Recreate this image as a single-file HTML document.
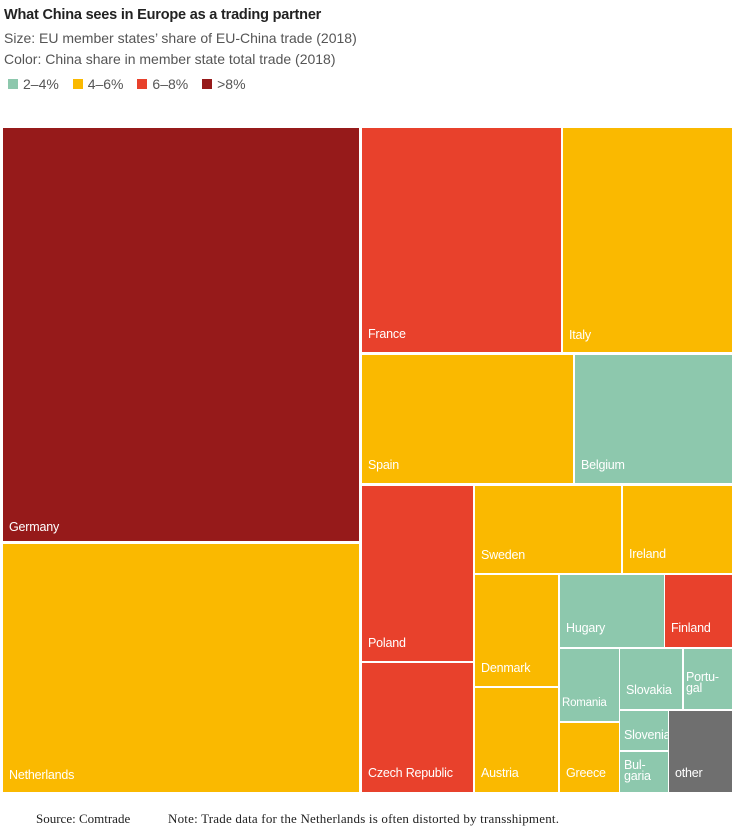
<!DOCTYPE html>
<html><head><meta charset="utf-8"><style>
body{margin:0;width:736px;height:835px;background:#fff;position:relative;font-family:"Liberation Sans",sans-serif;overflow:hidden}
.t{position:absolute;left:4px;color:#222;white-space:nowrap}
.b{position:absolute;box-sizing:border-box}
.b span{position:absolute;left:6px;bottom:11px;color:#fff;font-size:12.5px;letter-spacing:-0.2px;line-height:12px;white-space:nowrap}
.g{background:#8dc8ad}.y{background:#fab900}.r{background:#e8412c}.d{background:#961a1a}.k{background:#6f6f6f}
.lg{display:inline-block;width:10px;height:10px;margin:0 5px 0 6px;vertical-align:0px}
</style></head><body>
<div class="t" style="top:7px;font-size:14.5px;font-weight:bold;letter-spacing:-0.2px">What China sees in Europe as a trading partner</div>
<div class="t" style="top:30px;font-size:14px;color:#555">Size: EU member states’ share of EU-China trade (2018)</div>
<div class="t" style="top:51px;font-size:14px;color:#555">Color: China share in member state total trade (2018)</div>
<div class="t" style="top:76px;font-size:14px;color:#555;left:2px"><span class="lg g"></span>2–4% <span class="lg y" style="margin-left:10px"></span>4–6% <span class="lg r" style="margin-left:10px"></span>6–8% <span class="lg d" style="margin-left:10px"></span>&gt;8%</div>

<div class="b d" style="left:3px;top:128px;width:356px;height:413px"><span style="bottom:8px">Germany</span></div>
<div class="b y" style="left:3px;top:544px;width:356px;height:248px"><span style="bottom:11px">Netherlands</span></div>
<div class="b r" style="left:362px;top:128px;width:199px;height:224px"><span style="bottom:12px">France</span></div>
<div class="b y" style="left:563px;top:128px;width:169px;height:224px"><span style="bottom:11px">Italy</span></div>
<div class="b y" style="left:362px;top:355px;width:211px;height:128px"><span style="bottom:12px">Spain</span></div>
<div class="b g" style="left:575px;top:355px;width:157px;height:128px"><span style="bottom:12px">Belgium</span></div>
<div class="b r" style="left:362px;top:486px;width:111px;height:175px"><span style="bottom:12px">Poland</span></div>
<div class="b r" style="left:362px;top:663px;width:111px;height:129px"><span style="bottom:13px">Czech Republic</span></div>
<div class="b y" style="left:475px;top:486px;width:146px;height:87px"><span style="bottom:12px">Sweden</span></div>
<div class="b y" style="left:623px;top:486px;width:109px;height:87px"><span style="bottom:13px">Ireland</span></div>
<div class="b y" style="left:475px;top:575px;width:83px;height:111px"><span style="bottom:12px">Denmark</span></div>
<div class="b y" style="left:475px;top:688px;width:83px;height:104px"><span style="bottom:13px">Austria</span></div>
<div class="b g" style="left:560px;top:575px;width:104px;height:72px"><span style="bottom:13px">Hugary</span></div>
<div class="b r" style="left:665px;top:575px;width:67px;height:72px"><span style="bottom:13px">Finland</span></div>
<div class="b g" style="left:560px;top:649px;width:59px;height:72px"><span style="left:2px;font-size:11.5px;bottom:12px">Romania</span></div>
<div class="b g" style="left:620px;top:649px;width:62px;height:60px"><span style="bottom:13px">Slovakia</span></div>
<div class="b g" style="left:684px;top:649px;width:48px;height:60px"><span style="left:2px;bottom:15px;line-height:11px">Portu-<br>gal</span></div>
<div class="b y" style="left:560px;top:723px;width:59px;height:69px"><span style="bottom:13px">Greece</span></div>
<div class="b g" style="left:620px;top:711px;width:48px;height:39px"><span style="left:4px;bottom:9px">Slovenia</span></div>
<div class="b g" style="left:620px;top:752px;width:48px;height:40px"><span style="left:4px;bottom:10px;line-height:11px">Bul-<br>garia</span></div>
<div class="b k" style="left:669px;top:711px;width:63px;height:81px"><span style="bottom:13px">other</span></div>

<div style="position:absolute;top:811px;left:36px;font-family:'Liberation Serif',serif;font-size:13px;color:#222;white-space:nowrap">Source: Comtrade</div>
<div style="position:absolute;top:811px;left:168px;font-family:'Liberation Serif',serif;font-size:13px;color:#222;white-space:nowrap;letter-spacing:0.2px">Note: Trade data for the Netherlands is often distorted by transshipment.</div>
</body></html>
